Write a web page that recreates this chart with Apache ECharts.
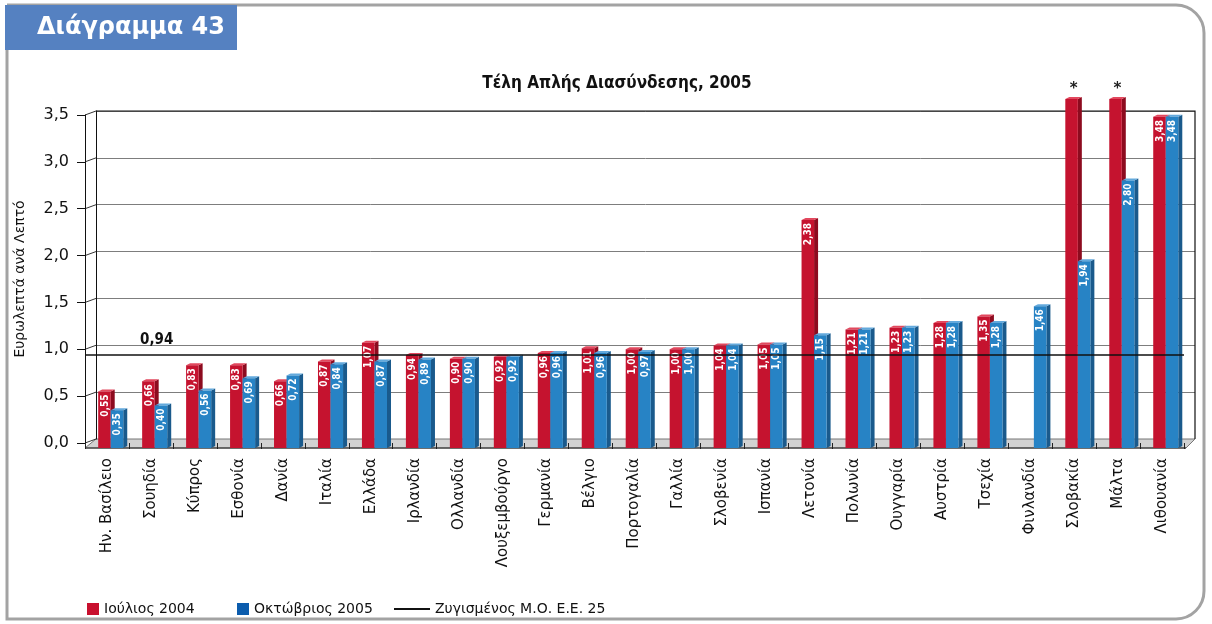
<!DOCTYPE html>
<html><head><meta charset="utf-8">
<script src="https://cdn.jsdelivr.net/npm/echarts@6/dist/echarts.min.js"></script>
<style>html,body{margin:0;padding:0;background:#fff}#c{width:1212px;height:624px}</style>
</head><body><div id="c"></div>
<script>
const categories = ['Ην. Βασίλειο','Σουηδία','Κύπρος','Εσθονία','Δανία','Ιταλία','Ελλάδα','Ιρλανδία','Ολλανδία','Λουξεμβούργο','Γερμανία','Βέλγιο','Πορτογαλία','Γαλλία','Σλοβενία','Ισπανία','Λετονία','Πολωνία','Ουγγαρία','Αυστρία','Τσεχία','Φινλανδία','Σλοβακία','Μάλτα','Λιθουανία'];
// Σλοβακία / Μάλτα (Ιούλιος 2004) exceed the axis: drawn truncated with "*"
const july2004 = [0.55,0.66,0.83,0.83,0.66,0.87,1.07,0.94,0.90,0.92,0.96,1.01,1.00,1.00,1.04,1.05,2.38,1.21,1.23,1.28,1.35,null,3.67,3.67,3.48];
const oct2005  = [0.35,0.40,0.56,0.69,0.72,0.84,0.87,0.89,0.90,0.92,0.96,0.96,0.97,1.00,1.04,1.05,1.15,1.21,1.23,1.28,1.28,1.46,1.94,2.80,3.48];
const euAverage = 0.94;
const seriesNames = ['Ιούλιος 2004','Οκτώβριος 2005','Ζυγισμένος Μ.Ο. Ε.Ε. 25'];
const yMin = 0, yMax = 3.5, yInterval = 0.5;

const fmt2 = v => v.toFixed(2).replace('.', ',');
const DX = 4, DY = -2, BASE_DROP = 5;
const LABEL_FONT = 'bold 10px "DejaVu Sans Condensed",sans-serif';

function makeRender(colors, slot) {
  return function (params, api) {
    const idx = api.value(0), v = api.value(1);
    if (v == null || isNaN(v)) return;
    const band = api.size([1, 0])[0];
    const top = api.coord([idx, v]);
    const zero = api.coord([idx, 0]);
    const w = band * 0.285;
    const x0 = top[0] - band * 0.2 + slot * w;
    const x1 = x0 + w;
    const yT = top[1], yB = zero[1] + BASE_DROP;
    const children = [
      {type:'polygon', shape:{points:[[x1,yT],[x1+DX,yT+DY],[x1+DX,yB+DY],[x1,yB]]}, style:{fill:colors.side}},
      {type:'polygon', shape:{points:[[x0,yT],[x1,yT],[x1+DX,yT+DY],[x0+DX,yT+DY]]}, style:{fill:colors.top}},
      {type:'rect', shape:{x:x0,y:yT,width:w,height:yB-yT}, style:{fill:colors.front}}
    ];
    if (v > yMax) {
      children.push({type:'text', x:x0+w/2+2, y:yT-10, style:{text:'*', align:'center', verticalAlign:'middle', fill:'#222', font:'bold 15px "DejaVu Sans",sans-serif'}});
    } else {
      children.push({type:'text', x:x0+w/2+0.5, y:yT+3, rotation:Math.PI/2,
        style:{text:fmt2(v), align:'right', verticalAlign:'middle', fill:'#fff', font:LABEL_FONT}});
    }
    return {type:'group', children};
  };
}

const chart = echarts.init(document.getElementById('c'), null, {renderer:'canvas'});
const FONT = '"DejaVu Sans",sans-serif';

const option = {
  animation: false,
  title: {
    text: 'Τέλη Απλής Διασύνδεσης, 2005',
    left: 612, top: 70, textAlign: 'center',
    textStyle: {fontFamily:'"DejaVu Sans Condensed","DejaVu Sans",sans-serif', fontWeight:'bold', fontSize:17, color:'#111'}
  },
  legend: [
    {left:82, top:597, icon:'rect', itemWidth:12, itemHeight:12,
     data:[{name:seriesNames[0], itemStyle:{color:'#c8102e'}}],
     textStyle:{fontFamily:FONT, fontSize:14, color:'#111'}},
    {left:232, top:597, icon:'rect', itemWidth:12, itemHeight:12,
     data:[{name:seriesNames[1], itemStyle:{color:'#0b5cad'}}],
     textStyle:{fontFamily:FONT, fontSize:14, color:'#111'}},
    {left:389, top:597, icon:'rect', itemWidth:36, itemHeight:2,
     data:[{name:seriesNames[2], itemStyle:{color:'#111'}}],
     textStyle:{fontFamily:FONT, fontSize:14, color:'#111'}}
  ],
  grid: [
    {left:85, right:28, top:115, bottom:181},
    {left:96, right:17, top:111, bottom:185}
  ],
  xAxis: [
    {type:'category', gridIndex:0, data:categories, offset:5,
     axisLine:{show:false}, axisTick:{show:true, length:6, lineStyle:{color:'#222'}},
     axisLabel:{rotate:90, margin:10, fontFamily:FONT, fontSize:15, color:'#111', interval:0}},
    {type:'value', gridIndex:1, show:false, min:0, max:1}
  ],
  yAxis: [
    {type:'value', gridIndex:0, min:yMin, max:yMax, interval:yInterval,
     name:'Ευρωλεπτά ανά Λεπτό', nameLocation:'middle', nameGap:58, nameRotate:90,
     nameTextStyle:{fontFamily:FONT, fontSize:14, color:'#111'},
     axisLine:{show:true, lineStyle:{color:'#111', width:1}},
     axisTick:{show:true, inside:false, length:8, lineStyle:{color:'#111'}},
     splitLine:{show:false},
     axisLabel:{margin:16, fontFamily:FONT, fontSize:16, color:'#111',
       formatter: v => v.toFixed(1).replace('.', ',')}},
    {type:'value', gridIndex:1, min:yMin, max:yMax, interval:yInterval,
     axisLine:{show:true, lineStyle:{color:'#111', width:1}},
     axisTick:{show:false}, axisLabel:{show:false},
     splitLine:{show:true, lineStyle:{color:'#7d7d7d', width:1}}}
  ],
  series: [
    {name:seriesNames[2], type:'bar', xAxisIndex:0, yAxisIndex:0, data:[], z:1,
     itemStyle:{color:'#111'},
     markLine:{silent:true, symbol:'none', label:{show:false},
       lineStyle:{color:'#111', width:1.5, type:'solid'},
       data:[{yAxis:euAverage}]}},
    {name:seriesNames[0], type:'custom', xAxisIndex:0, yAxisIndex:0, z:3, clip:false,
     itemStyle:{color:'#c8102e'}, encode:{x:0, y:1},
     renderItem: makeRender({front:'#c5132f', top:'#e2485e', side:'#8d0b1f'}, 0),
     data: july2004.map((v,i)=>[i, v == null ? NaN : v])},
    {name:seriesNames[1], type:'custom', xAxisIndex:0, yAxisIndex:0, z:4, clip:false,
     itemStyle:{color:'#0b5cad'}, encode:{x:0, y:1},
     renderItem: makeRender({front:'#2783c5', top:'#63a9dc', side:'#1a5a8c'}, 1),
     data: oct2005.map((v,i)=>[i, v])}
  ]
};
chart.setOption(option);

// decorative frame, floor, back wall and depth connectors
const px = (v) => chart.convertToPixel({xAxisIndex:0, yAxisIndex:0}, [0, v])[1];
const y0 = px(0), yTop = px(yMax);
const backLeft = 96, backRight = 1195, frontLeft = 85, frontRight = 1184;
const back0 = y0 - 4, backTop = yTop - 4;
const floorFront = y0 + BASE_DROP;
const g = [];
g.push({type:'rect', shape:{x:7, y:5, width:1197, height:614, r:[0,28,28,0]}, style:{fill:'none', stroke:'#a3a3a3', lineWidth:3}, z:0});
g.push({type:'rect', shape:{x:5, y:5, width:232, height:45}, style:{fill:'#5581c1'}, z:1});
g.push({type:'text', x:37, y:28, style:{text:'Διάγραμμα 43', fill:'#fff', font:'bold 24px "DejaVu Sans",sans-serif', verticalAlign:'middle'}, z:2});
g.push({type:'polygon', shape:{points:[[backLeft,back0],[backRight,back0],[frontRight+2,floorFront],[frontLeft,floorFront]]}, style:{fill:'#d2d2d2', stroke:'#777', lineWidth:1}, z:0});
g.push({type:'line', shape:{x1:frontLeft, y1:floorFront, x2:frontRight+2, y2:floorFront}, style:{stroke:'#222', lineWidth:1}, z:0});
g.push({type:'polyline', shape:{points:[[backLeft,backTop],[backRight,backTop],[backRight,back0]]}, style:{stroke:'#111', lineWidth:1.2, fill:'none'}, z:0});
for (let v = yMin; v <= yMax + 1e-9; v += yInterval) {
  const y = px(v);
  g.push({type:'line', shape:{x1:frontLeft, y1:y, x2:backLeft, y2:y-4}, style:{stroke:'#333', lineWidth:1}, z:0});
}
const yAvg = px(euAverage);
g.push({type:'text', x:140, y:yAvg-15, style:{text:fmt2(euAverage), fill:'#111', font:'bold 15px "DejaVu Sans Condensed","DejaVu Sans",sans-serif', verticalAlign:'middle'}, z:2});
chart.setOption({graphic:{elements:g}});
</script></body></html>
